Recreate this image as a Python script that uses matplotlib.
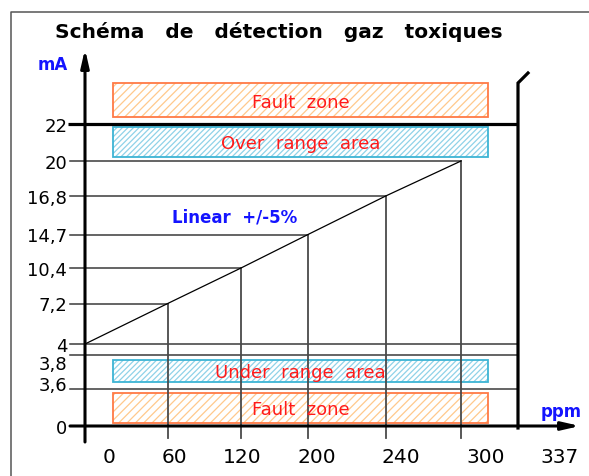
import numpy as np
import matplotlib
matplotlib.use("Agg")
import matplotlib.pyplot as plt
from matplotlib.lines import Line2D
from matplotlib.patches import Rectangle
from matplotlib.transforms import Affine2D

# ---- data -------------------------------------------------------------
PPM = [0, 60, 120, 200, 240, 300, 337]
PPM_LABELS = ["0", "60", "120", "200", "240", "300", "337"]
MA_LINE = [4, 7.2, 10.4, 14.7, 16.8, 20]          # output for PPM[0..5]
MA_LEVELS = [0, 3.6, 3.8, 4, 7.2, 10.4, 14.7, 16.8, 20, 22]
MA_LABELS = ["0", "3,6", "3,8", "4", "7,2", "10,4", "14,7", "16,8", "20", "22"]
ZONE_NAMES = ["Fault zone", "Over range area", "Under range area", "Fault zone"]
ZONE_LOW = [22, 20, 3.6, 0]
ZONE_HIGH = [24.4, 22, 3.8, 3.6]

# ---- layout (schematic, not to scale) ---------------------------------
W, H = 589, 477
X_POS = [85, 167.7, 241, 308, 385.7, 461, 518]               # px for PPM
Y_POS = [427, 390, 356, 345, 304.5, 269, 235.5, 197, 162, 125]  # px from top
X_LABEL_DX = [24, 7, 1.5, 9, 15, 25, 42]                      # px
Y_LABEL_DY = [0, -6, 7, 0, 0, 0, 0, 0, 0, 0]                  # px (down +)
ZONE_PAD = [(7, 3.4), (4, 3), (7, 5), (3, 4)]                 # px (bottom, top)
ZONE_X = (113, 488)
ZONE_EDGE = ["#ff7a45", "#3db4d4", "#3db4d4", "#ff7a45"]
ZONE_HATCH = ["#ffc98c", "#8fd2e8", "#8fd2e8", "#ffc98c"]
ZONE_PATTERN = ["////", "//////", "//////", "////"]
BLUE, RED = "#1414ff", "#ff1a1a"
TICK_PX = 15


def _pw(src, dst):
    src = np.asarray(src, float); dst = np.asarray(dst, float)
    s0 = (dst[1] - dst[0]) / (src[1] - src[0])
    s1 = (dst[-1] - dst[-2]) / (src[-1] - src[-2])

    def f(v):
        v = np.asarray(v, float)
        out = np.interp(v, src, dst)
        out = np.where(v < src[0], dst[0] + (v - src[0]) * s0, out)
        return np.where(v > src[-1], dst[-1] + (v - src[-1]) * s1, out)
    return f


x_fwd, x_inv = _pw(PPM, X_POS), _pw(X_POS, PPM)
y_up = H - np.asarray(Y_POS, float)
y_fwd, y_inv = _pw(MA_LEVELS, y_up), _pw(y_up, MA_LEVELS)

plt.rcParams["hatch.linewidth"] = 0.9
fig = plt.figure(figsize=(W / 100, H / 100), dpi=100)
ax = fig.add_axes([0, 0, 1, 1])
ax.set_axis_off()
ax.set_xscale("function", functions=(x_fwd, x_inv))
ax.set_yscale("function", functions=(y_fwd, y_inv))
ax.set_xlim(float(x_inv(0.0)), float(x_inv(float(W))))
ax.set_ylim(float(y_inv(0.0)), float(y_inv(float(H))))

PX = Affine2D().scale(1 / W, -1 / H).translate(0, 1) + fig.transFigure


def xp(px):  # pixel column -> ppm
    return float(x_inv(px))


def yp(py):  # pixel row (from top) -> mA
    return float(y_inv(H - py))


# frame + title
fig.add_artist(Line2D([11, 11, W + 5], [H + 5, 13, 13], transform=PX,
                      color="#555555", lw=1.1))
fig.text(55, 38, "Schéma   de   détection   gaz   toxiques", transform=PX,
         fontsize=14.5, fontweight="bold", ha="left", va="baseline")

# zones
for name, lo, hi, (pb, pt), ec, hc, pat in zip(ZONE_NAMES, ZONE_LOW, ZONE_HIGH,
                                                ZONE_PAD, ZONE_EDGE, ZONE_HATCH,
                                                ZONE_PATTERN):
    top = H - float(y_fwd(hi)) + pt
    bot = H - float(y_fwd(lo)) - pb
    x0, x1 = ZONE_X
    ax.add_patch(Rectangle((x0, bot), x1 - x0, top - bot, transform=PX,
                           facecolor="none", edgecolor=hc, lw=0, hatch=pat))
    ax.add_patch(Rectangle((x0, bot), x1 - x0, top - bot, transform=PX,
                           facecolor="none", edgecolor=ec, lw=1.3))
    ax.text((x0 + x1) / 2, (top + bot) / 2 + 6.5, name.replace(" ", "  "),
            transform=PX, color=RED, fontsize=13, ha="center", va="baseline")

# horizontal levels
x_tick = xp(x_fwd(0) - TICK_PX)
for lvl in MA_LEVELS[1:]:
    end = PPM[MA_LINE.index(lvl)] if lvl in MA_LINE[1:] else PPM[-1]
    if lvl == 22:
        ax.plot([xp(68), end], [lvl, lvl], color="black", lw=2.3,
                solid_capstyle="butt")
    else:
        ax.plot([x_tick, end], [lvl, lvl], color="#3a3a3a", lw=1.1)

# verticals down to the ppm axis
y_low = yp(439)
for p, m in zip(PPM[1:6], MA_LINE[1:]):
    ax.plot([p, p], [y_low, m], color="#4a4a4a", lw=1.3)

# transfer line
ax.plot(PPM[:6], MA_LINE, color="black", lw=0.9)

# saturation bar at 337 ppm
ax.plot([PPM[-1], PPM[-1], xp(528)], [yp(429), yp(84), yp(74)],
        color="black", lw=2.3, solid_joinstyle="miter")

# axes with arrows
arrow = dict(arrowstyle="-|>,head_length=0.7,head_width=0.16",
             mutation_scale=15, lw=2.2, color="black", shrinkA=0, shrinkB=0)
ax.annotate("", xy=(0, yp(50)), xytext=(0, yp(443)), arrowprops=arrow)
ax.annotate("", xy=(xp(580), 0), xytext=(x_tick, 0), arrowprops=arrow)

# tick labels
for lvl, lab, dy in zip(MA_LEVELS, MA_LABELS, Y_LABEL_DY):
    ax.annotate(lab, xy=(x_tick, lvl), xytext=(-2, (-dy - 6.6) * 0.72),
                textcoords="offset points", ha="right", va="baseline",
                fontsize=13)
for p, lab, dx in zip(PPM, PPM_LABELS, X_LABEL_DX):
    ax.annotate(lab, xy=(p, 0), xytext=(dx * 0.72, -36 * 0.72),
                textcoords="offset points", ha="center", va="baseline",
                fontsize=14.5)

ax.text(38, 70, "mA", transform=PX, color=BLUE, fontsize=12,
        fontweight="bold", ha="left", va="baseline")
ax.text(541, 417, "ppm", transform=PX, color=BLUE, fontsize=12,
        fontweight="bold", ha="left", va="baseline")
ax.text(172, 223, "Linear  +/-5%", transform=PX, color=BLUE, fontsize=12,
        fontweight="bold", ha="left", va="baseline")

fig.savefig("out.png", dpi=100)
